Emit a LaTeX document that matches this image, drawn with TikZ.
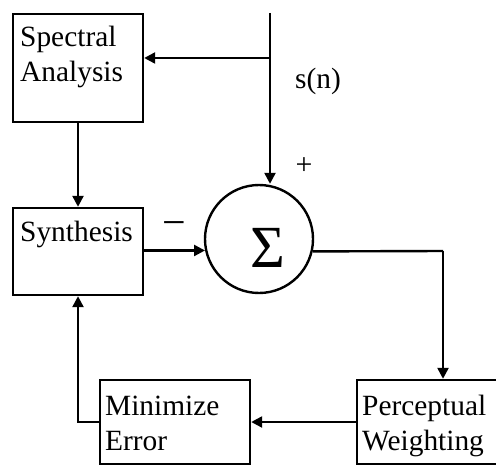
\documentclass[tikz,border=0pt]{standalone}
\usepackage{fontspec}
\setmainfont{Liberation Serif}
\usetikzlibrary{arrows.meta,calc}
\begin{document}
\begin{tikzpicture}[x=1bp,y=-1bp,
  box/.style={draw,line width=2.4bp,rectangle,inner sep=0,minimum width=#1},
  txt/.style={anchor=base west,inner sep=0,font=\fontsize{29.5}{35}\selectfont},
  conn/.style={line width=2.4bp},
  arr/.style={conn,-{Triangle[length=11bp,width=11bp]}}]
\useasboundingbox (0,0) rectangle (496,465);
\fill[white] (0,0) rectangle (496,465);
% blocks
\node[box=130bp,minimum height=108bp] (SA) at (78,68) {};
\node[box=130bp,minimum height=87bp] (SY) at (78,251.5) {};
\node[draw,circle,line width=2.4bp,minimum size=108bp,inner sep=0] (C) at (259,239) {};
\node[box=150bp,minimum height=84bp] (ME) at (175,422) {};
\node[box=150bp,minimum height=84bp] (PW) at (432,422) {};
% texts
\node[txt] (t1) at (20,47) {Spectral};
\node[txt] (t2) at (20,82) {Analysis};
\node[txt] (t3) at (20,242) {Synthesis};
\node[txt] (t4) at (105,415) {Minimize};
\node[txt] (t5) at (105,450) {Error};
\node[txt] (t6) at (362,415) {Perceptual};
\node[txt] (t7) at (362,450) {Weighting};
\node[txt] (sn) at (295,89) {s(n)};
\node[inner sep=0,font=\fontsize{30}{32}\selectfont] (plus) at (304,166) {+};
\node[inner sep=0,font=\fontsize{42}{44}\selectfont] (minus) at (174,229) {−};
\node[inner sep=0,font=\fontsize{60}{62}\selectfont] (sig) at (268,248) {Σ};
% connectors
\coordinate (top) at (270,13);
\coordinate (br) at (270,58);
\coordinate (turn) at (443,251);
\draw[arr] (top) -- (top |- C.north);
\draw[arr] (br) -- (SA.east |- br);
\draw[arr] (SA.south) -- (SY.north);
\draw[arr] (SY.east |- C.192.84) -- (C.192.84);
\draw[conn] (C.347.16) -- (turn);
\draw[arr] (turn) -- (turn |- PW.north);
\draw[arr] (PW.west) -- (ME.east);
\draw[arr] (ME.west) -| (SY.south);
\end{tikzpicture}
\end{document}
